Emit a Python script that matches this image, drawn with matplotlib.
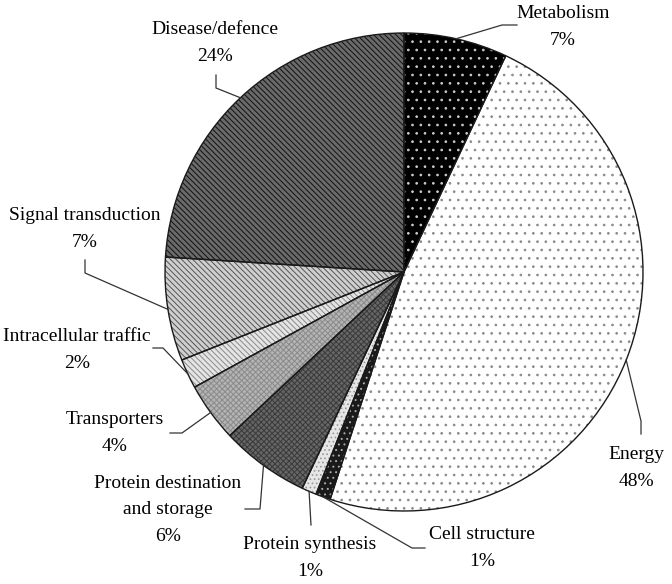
import numpy as np
import matplotlib
matplotlib.use("Agg")
import matplotlib.pyplot as plt
from matplotlib.patches import Wedge

categories = ["Metabolism", "Energy", "Cell structure", "Protein synthesis",
              "Protein destination\nand storage", "Transporters",
              "Intracellular traffic", "Signal transduction", "Disease/defence"]
values = [7, 48, 1, 1, 6, 4, 2, 7, 24]
pct_labels = ["7%", "48%", "1%", "1%", "6%", "4%", "2%", "7%", "24%"]

# fill styles: (face, hatch, hatch colour)
styles = [
    ("black", "..", "#cccccc"),
    ("white", "..", "#8a8a8a"),
    ("#1a1a1a", "...", "#aaaaaa"),
    ("#e6e6e6", "....", "#999999"),
    ("#666666", "xxxxxx", "#3a3a3a"),
    ("#b4b4b4", "xxxxxx", "#8a8a8a"),
    ("#e4e4e4", "\\\\\\\\\\\\", "#8a8a8a"),
    ("#cfcfcf", "\\\\\\\\\\\\", "#555555"),
    ("#6a6a6a", "\\\\\\\\\\\\", "#111111"),
]

W, H = 672, 584
CX, CY, R = 404, 272, 239   # pixel coords (y from top)

# label layout in pixel coords (centre of text block), and leader elbows
label_pos = [(563, 27), (636, 468), (482, 548), (310, 558), (168, 510),
             (115, 433), (77, 350), (85, 229), (215, 43)]
leader_pts = [
    [(502, 25), (517, 25)],
    [(641, 421), (641, 434)],
    [(412, 548), (425, 548)],
    [(311, 525)],
    [(260, 509), (245, 509)],
    [(182, 433), (170, 433)],
    [(163, 348), (153, 348)],
    [(85, 273), (85, 260)],
    [(216, 88), (216, 75)],
]

plt.rcParams['font.family'] = ['Liberation Serif', 'DejaVu Serif']
plt.rcParams['hatch.linewidth'] = 0.7

fig = plt.figure(figsize=(W / 100, H / 100), dpi=100)
fig.patch.set_facecolor("white")
ax = fig.add_axes([0, 0, 1, 1])

cyd = H - CY
wedges, _ = ax.pie(values, startangle=90, counterclock=False,
                   center=(CX, cyd), radius=R, frame=True)
ax.set_xlim(0, W)
ax.set_ylim(0, H)
ax.set_aspect("auto")
ax.axis("off")
for w, (fc, hatch, hc) in zip(wedges, styles):
    w.set_facecolor(fc)
    w.set_hatch(hatch)
    w.set_edgecolor(hc)
    w.set_linewidth(0)
    outline = Wedge(w.center, w.r, w.theta1, w.theta2, fill=False,
                    edgecolor="#1a1a1a", linewidth=1.0)
    ax.add_patch(outline)

for w, name, pct, (tx, ty), pts in zip(wedges, categories, pct_labels,
                                       label_pos, leader_pts):
    mid = np.deg2rad((w.theta1 + w.theta2) / 2)
    ex = CX + R * np.cos(mid)
    ey = cyd + R * np.sin(mid)
    xs = [ex] + [p[0] for p in pts]
    ys = [ey] + [H - p[1] for p in pts]
    ax.plot(xs, ys, color="#333333", lw=0.9)
    ax.text(tx, H - ty, name + "\n" + pct, ha="center", va="center",
            fontsize=14, linespacing=1.72, color="black")

fig.savefig("out.png", dpi=100, facecolor="white")
